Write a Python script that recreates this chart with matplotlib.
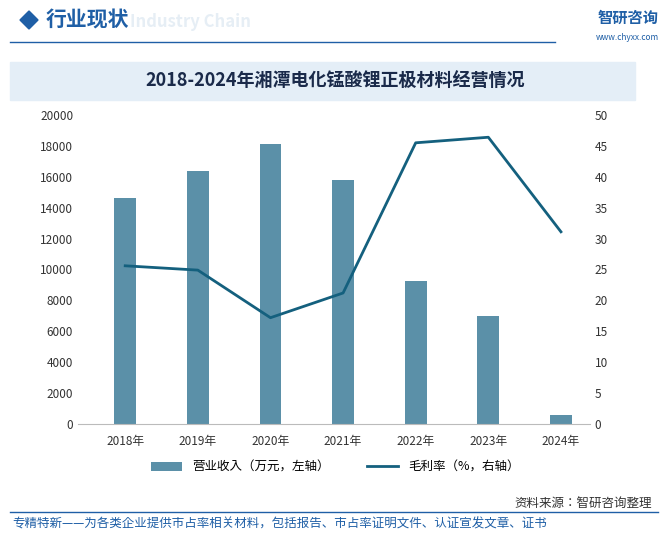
import matplotlib
matplotlib.use("Agg")
import matplotlib.pyplot as plt
from matplotlib.patches import Rectangle, Polygon
from matplotlib import font_manager

names = {f.name for f in font_manager.fontManager.ttflist}
cjk = [n for n in ["Noto Sans CJK SC", "Noto Sans CJK JP", "Noto Sans CJK TC", "Noto Sans CJK KR"] if n in names]
plt.rcParams["font.family"] = "sans-serif"
plt.rcParams["font.sans-serif"] = cjk + ["DejaVu Sans"]
plt.rcParams["axes.unicode_minus"] = False

years = ["2018年", "2019年", "2020年", "2021年", "2022年", "2023年", "2024年"]
revenue = [14600, 16400, 18100, 15800, 9250, 7000, 600]
margin = [25.6, 24.9, 17.2, 21.2, 45.5, 46.4, 31.1]
left_ticks = list(range(0, 20001, 2000))
right_ticks = list(range(0, 51, 5))

fig = plt.figure(figsize=(6.68, 5.41), dpi=100)
W, H = 668, 541
def fx(x): return x / W
def fy(y): return 1 - y / H

fig.patches.append(Polygon([[fx(20), fy(20)], [fx(29), fy(11)], [fx(38), fy(20)], [fx(29), fy(29)]],
                           closed=True, transform=fig.transFigure, color="#1f5fa6"))
fig.text(fx(46), fy(20), "行业现状", fontsize=15, fontweight="bold", color="#1f5fa6", va="center")
fig.text(fx(130), fy(22), "Industry Chain", fontsize=12, color="#e6eef5", va="center", fontweight="bold")
fig.lines.append(plt.Line2D([fx(10), fx(555)], [fy(42), fy(42)], transform=fig.transFigure, color="#1f5fa6", lw=1))
fig.text(fx(598), fy(18), "智研咨询", fontsize=11, color="#1f5fa6", va="center", fontweight="bold")
fig.text(fx(596), fy(38), "www.chyxx.com", fontsize=6, color="#1f5fa6", va="center")
fig.patches.append(Rectangle((fx(10), fy(100)), fx(625), fy(62) - fy(100), transform=fig.transFigure,
                             color="#e4eef7", zorder=0))
fig.text(fx(335), fy(81), "2018-2024年湘潭电化锰酸锂正极材料经营情况", fontsize=13, fontweight="bold",
         color="#1a2a4a", ha="center", va="center")

ax = fig.add_axes([fx(78), fy(424), fx(590) - fx(78), fy(115) - fy(424)])
x = list(range(len(years)))
b = ax.bar(x, revenue, width=0.3, color="#5b90a8")
ax.set_ylim(0, 20000)
ax.set_yticks(left_ticks)
ax.set_xlim(-0.65, 6.4)
ax.set_xticks(x)
ax.set_xticklabels(years)
for s in ["top", "right", "left"]:
    ax.spines[s].set_visible(False)
ax.spines["bottom"].set_color("#bbbbbb")
ax.tick_params(axis="both", length=0, labelsize=8.5, colors="#333333")
ax.tick_params(axis="x", pad=8)
ax2 = ax.twinx()
l, = ax2.plot(x, margin, color="#14607e", lw=2)
ax2.set_ylim(0, 50)
ax2.set_yticks(right_ticks)
for s in ["top", "right", "left", "bottom"]:
    ax2.spines[s].set_visible(False)
ax2.tick_params(axis="y", length=0, labelsize=8.5, colors="#333333")

fig.legend([b, l], ["营业收入（万元，左轴）", "毛利率（%，右轴）"], loc="center",
           bbox_to_anchor=(fx(335), fy(467)), ncol=2, frameon=False, fontsize=9,
           handlelength=2.5, columnspacing=3)

fig.lines.append(plt.Line2D([fx(10), fx(658)], [fy(512), fy(512)], transform=fig.transFigure, color="#1f5fa6", lw=1))
fig.text(fx(652), fy(503), "资料来源：智研咨询整理", fontsize=9, color="#333333", ha="right", va="center")
fig.text(fx(12), fy(524), "专精特新——为各类企业提供市占率相关材料，包括报告、市占率证明文件、认证宣发文章、证书",
         fontsize=9, color="#1f5fa6", va="center")

fig.savefig("out.png", dpi=100)
